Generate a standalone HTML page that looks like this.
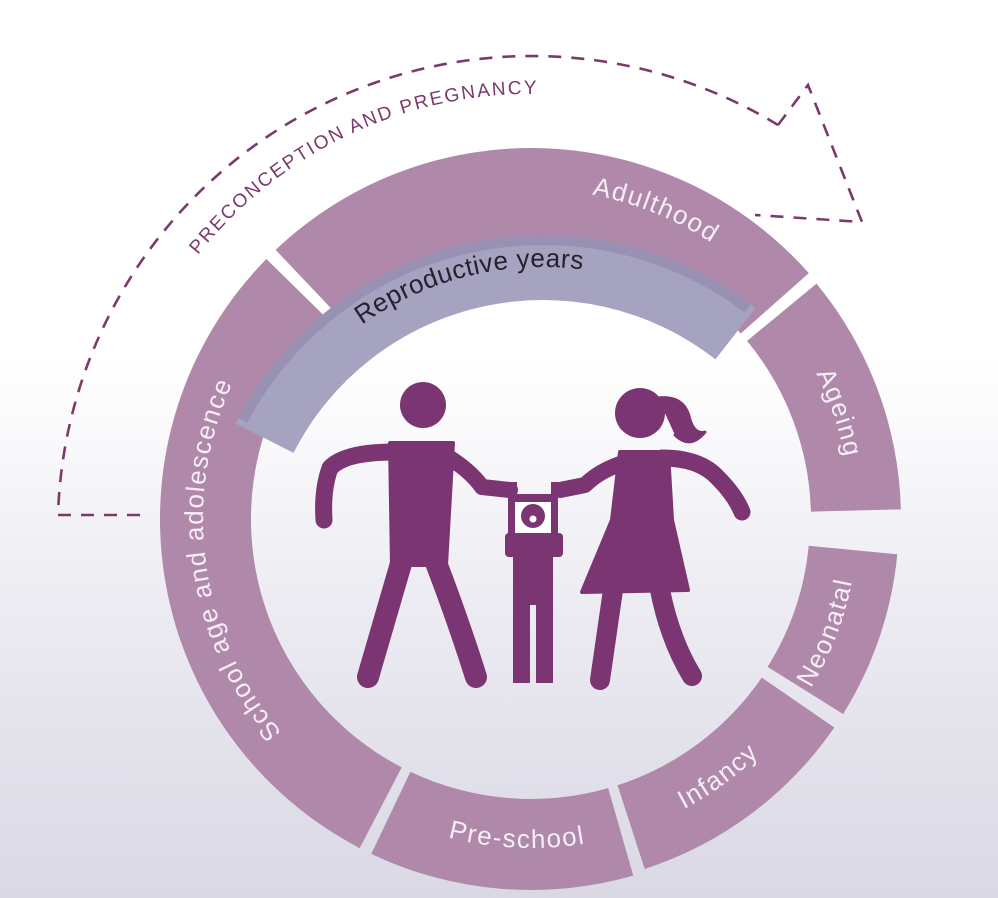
<!DOCTYPE html>
<html><head><meta charset="utf-8"><style>
html,body{margin:0;padding:0;}
body{width:998px;height:898px;overflow:hidden;background:linear-gradient(to bottom,#ffffff 0%,#ffffff 40%,#eeedf3 65%,#d9d8e4 100%);font-family:"Liberation Sans","DejaVu Sans",sans-serif;}
svg{display:block}
</style></head><body>
<svg id="s" width="998" height="898" viewBox="0 0 998 898" xmlns="http://www.w3.org/2000/svg">
<defs id="defs"></defs>
<g id="ring"></g>
<!-- dashed arrow -->
<g fill="none" stroke="#7a3a6c" stroke-width="2.6" stroke-dasharray="13 10">
<path d="M 140 515 L 58 515 A 474 474 0 0 1 778 125"/>
<path d="M 778 125 L 808 85 L 862 222 L 755 215"/>
</g>
<text font-size="19" fill="#7a3a6c" letter-spacing="2"><textPath href="#tPre" startOffset="50%" text-anchor="middle">PRECONCEPTION AND PREGNANCY</textPath></text>
<g font-size="26" fill="#f6eef5" letter-spacing="1.5">
<text><textPath href="#tAdult" startOffset="50%" text-anchor="middle">Adulthood</textPath></text>
<text><textPath href="#tAge" startOffset="50%" text-anchor="middle">Ageing</textPath></text>
<text><textPath href="#tNeo" startOffset="50%" text-anchor="middle">Neonatal</textPath></text>
<text><textPath href="#tInf" startOffset="50%" text-anchor="middle">Infancy</textPath></text>
<text><textPath href="#tPres" startOffset="50%" text-anchor="middle">Pre-school</textPath></text>
<text><textPath href="#tSchool" startOffset="50%" text-anchor="middle">School age and adolescence</textPath></text>
</g>
<text font-size="26" fill="#23222e" letter-spacing="0.5"><textPath href="#tRepro" startOffset="50%" text-anchor="middle">Reproductive years</textPath></text>
<!-- figures -->
<g fill="#7b3572" stroke="#7b3572" stroke-linecap="round" stroke-linejoin="round">
<circle cx="423" cy="405" r="23" stroke="none"/>
<path d="M 390 443 L 453 443 L 446 565 L 392 565 Z" stroke-width="4"/>
<path d="M 395 452 Q 345 452 330 468 Q 322 490 324 520" fill="none" stroke-width="17"/>
<path d="M 445 455 Q 470 470 482 487 L 510 490" fill="none" stroke-width="16"/>
<path d="M 402 560 L 368 677" fill="none" stroke-width="22"/>
<path d="M 435 560 Q 458 620 476 677" fill="none" stroke-width="22"/>
<circle cx="640" cy="413" r="25" stroke="none"/>
<path d="M 658 398 Q 685 395 690 420 Q 695 435 705 432 Q 690 450 675 435" stroke-width="3"/>
<path d="M 620 452 L 668 452 L 672 520 L 688 590 L 582 592 L 612 520 Z" stroke-width="4"/>
<path d="M 626 462 Q 600 470 585 485 L 560 490" fill="none" stroke-width="16"/>
<path d="M 662 458 Q 700 458 718 478 Q 735 495 742 512" fill="none" stroke-width="17"/>
<path d="M 613 590 L 600 680" fill="none" stroke-width="20"/>
<path d="M 660 590 Q 670 640 692 676" fill="none" stroke-width="20"/>
<!-- child -->
<rect x="505" y="482" width="12" height="14" stroke="none"/>
<rect x="551" y="482" width="12" height="14" stroke="none"/>
<rect x="508" y="494" width="50" height="46" stroke="none"/>
<rect x="515" y="502" width="36" height="31" fill="#ffffff" stroke="none"/>
<circle cx="533" cy="516" r="12" stroke="none"/>
<circle cx="533" cy="519" r="3.5" fill="#ffffff" stroke="none"/>
<rect x="505" y="533" width="58" height="24" rx="4" stroke="none"/>
<rect x="513" y="550" width="40" height="55" stroke="none"/>
<rect x="513" y="600" width="17" height="83" stroke="none"/>
<rect x="536" y="600" width="17" height="83" stroke="none"/>
</g>
</svg>
<script>
(function(){
var g=document.getElementById('ring');var defs=document.getElementById('defs');var NS='http://www.w3.org/2000/svg';
function P(cx,cy,r,a){a=a*Math.PI/180;return [cx+r*Math.cos(a),cy+r*Math.sin(a)];}
function sector(cx,cy,ri,ro,a1,a2,fill){
 var large=(a2-a1)>180?1:0;
 var o1=P(cx,cy,ro,a1),o2=P(cx,cy,ro,a2),i2=P(cx,cy,ri,a2),i1=P(cx,cy,ri,a1);
 var d='M'+o1+' A'+ro+' '+ro+' 0 '+large+' 1 '+o2+' L'+i2+' A'+ri+' '+ri+' 0 '+large+' 0 '+i1+' Z';
 var p=document.createElementNS(NS,'path');p.setAttribute('d',d);p.setAttribute('fill',fill);g.appendChild(p);}
function arc(id,cx,cy,r,mid,span,cw){
 var a1,a2;
 if(cw){a1=mid-span/2;a2=mid+span/2;}else{a1=mid+span/2;a2=mid-span/2;}
 var s=P(cx,cy,r,a1),e=P(cx,cy,r,a2);
 var p=document.createElementNS(NS,'path');p.setAttribute('id',id);
 p.setAttribute('d','M'+s+' A'+r+' '+r+' 0 0 '+(cw?1:0)+' '+e);defs.appendChild(p);}
var C='#b088a9';
sector(531,519,280,371,117.5,224.5,C); // school
sector(531,519,280,371,-133.5,-41.5,C); // adulthood
sector(531,519,280,370,-39.5,-1.5,C); // ageing
sector(531,519,279,368,5.5,32,C); // neonatal
sector(531,519,280,368,34.5,72,C); // infancy
sector(531,519,280,371,74,115.5,C); // preschool
// repro band
sector(543,580,280,345,-153,-52,'#a6a3c1');
sector(543,580,335,345,-152,-53,'#9891b3');
arc('tPre',531,519,425,-115.3,80,true);
arc('tAdult',531,519,330,-68,50,true);
arc('tAge',531,519,320,-19,40,true);
arc('tNeo',531,519,327,21,40,false);
arc('tInf',531,519,328,54,40,false);
arc('tPres',531,519,329,92.5,40,false);
arc('tSchool',531,519,328,172,100,true);
arc('tRepro',543,580,313,-104,70,true);
})();
</script>
</body></html>
